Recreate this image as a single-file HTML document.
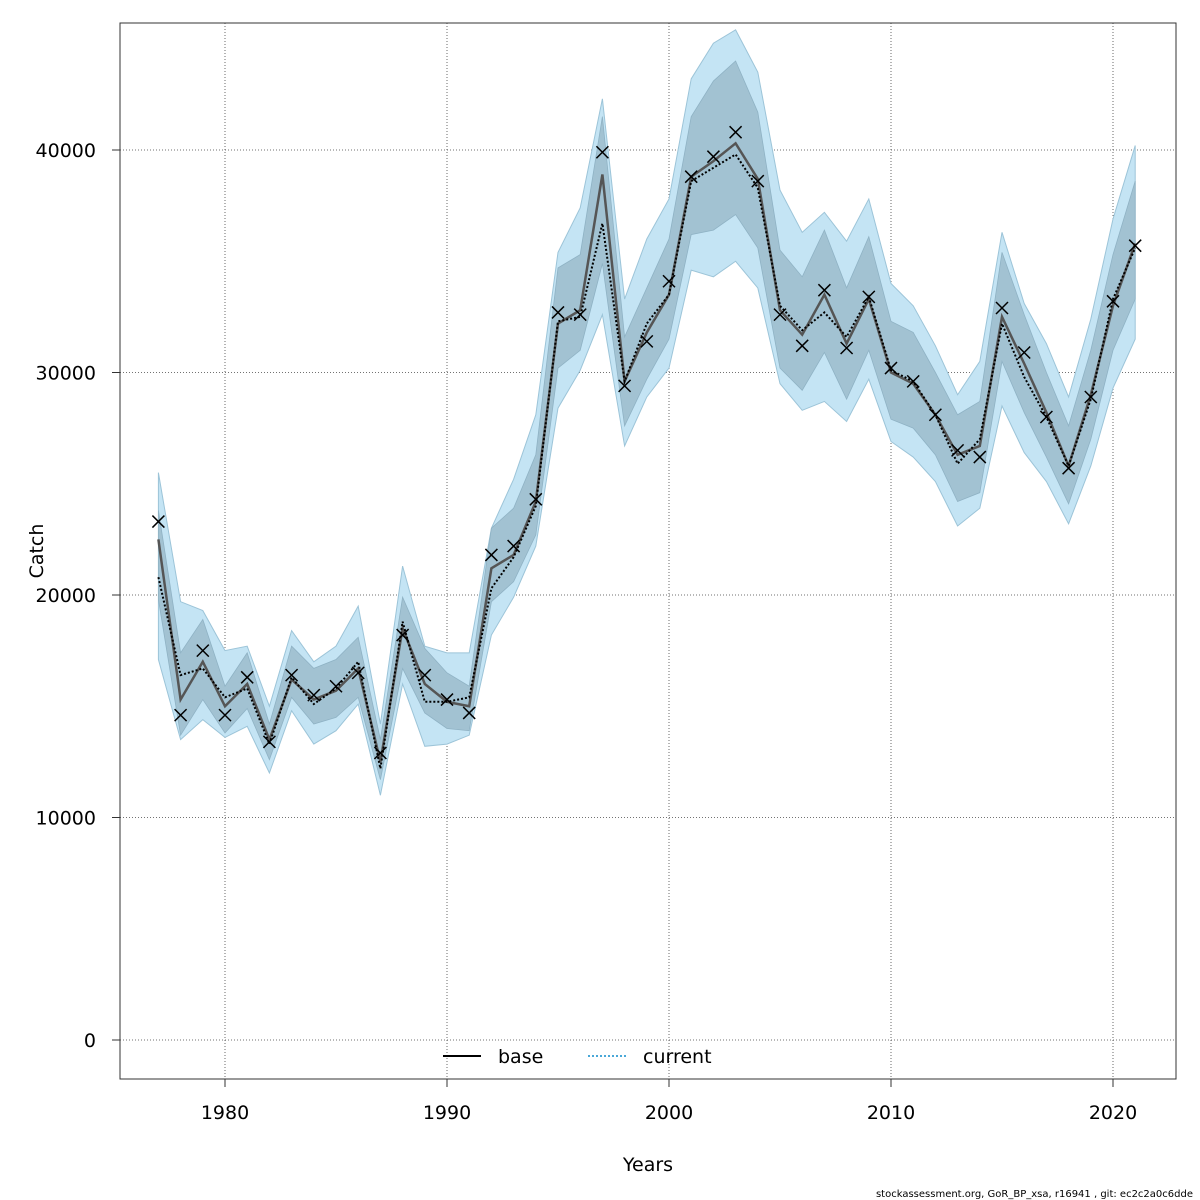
<!DOCTYPE html>
<html><head><meta charset="utf-8"><style>
body{margin:0;background:#fff;}
svg{display:block;font-family:"DejaVu Sans","Liberation Sans",sans-serif;}
</style></head><body>
<svg id="chart" width="1200" height="1200" viewBox="0 0 1200 1200" xmlns="http://www.w3.org/2000/svg">
<rect x="0" y="0" width="1200" height="1200" fill="#fff"/>
<g id="grid"></g>
<g id="bands"></g>
<g id="lines"></g>
<g id="pts"></g>
<rect x="120" y="23" width="1056" height="1056" fill="none" stroke="#333" stroke-width="1"/>
<g id="axes"></g>
<text transform="translate(43,551) rotate(-90)" text-anchor="middle" font-size="19">Catch</text>
<text x="648" y="1171" text-anchor="middle" font-size="19">Years</text>
<g>
<line x1="443" y1="1056" x2="481" y2="1056" stroke="#000" stroke-width="2"/>
<text x="498" y="1063" font-size="19">base</text>
<line x1="588" y1="1056" x2="626" y2="1056" stroke="#4aa8d8" stroke-width="2" stroke-dasharray="2,2"/>
<text x="643" y="1063" font-size="19">current</text>
</g>
<text x="1193" y="1197" text-anchor="end" font-size="10">stockassessment.org, GoR_BP_xsa, r16941 , git: ec2c2a0c6dde</text>
</svg>
<script>
const years=[];for(let y=1977;y<=2021;y++)years.push(y);
const observed=[23300,14600,17500,14600,16300,13400,16400,15500,15900,16500,12900,18200,16400,15300,14700,21800,22200,24300,32700,32600,39900,29400,31400,34100,38800,39700,40800,38600,32600,31200,33700,31100,33400,30200,29600,28100,26500,26200,32900,30900,28000,25700,28900,33200,35700];
const base=[22500,15300,17000,15000,16000,13500,16200,15300,15700,16700,12500,18500,16000,15200,15000,21200,21800,24200,32200,32800,38900,29600,31800,33500,38800,39500,40300,38700,32800,31700,33500,31300,33300,30000,29500,28100,26300,26700,32500,30400,28200,25800,29000,33000,35800];
const current=[20800,16400,16700,15400,15800,13300,16300,15100,15800,17000,12200,18800,15200,15200,15400,20300,21700,24000,32300,32500,36700,29600,32200,33500,38600,39200,39800,38300,33000,31900,32700,31600,33400,30100,29600,28100,25900,27000,32200,29800,28000,25800,28800,33300,35600];
const outerUpper=[25500,19700,19300,17500,17700,15000,18400,17000,17700,19500,14200,21300,17700,17400,17400,23000,25200,28100,35400,37400,42300,33300,36000,37800,43200,44800,45400,43500,38200,36300,37200,35900,37800,34000,33000,31200,29000,30500,36300,33100,31300,28900,32400,36900,40200];
const outerLower=[17100,13500,14400,13600,14100,12000,14800,13300,13900,15100,11000,16000,13200,13300,13700,18200,19900,22200,28400,30100,32600,26700,28900,30200,34600,34300,35000,33800,29500,28300,28700,27800,29700,26900,26200,25100,23100,23900,28500,26400,25100,23200,25800,29300,31500];
const innerUpper=[23800,17400,18900,15900,17400,14200,17700,16700,17100,18100,13500,19900,17600,16500,15900,23000,23900,26300,34700,35300,41500,31600,33800,36000,41500,43100,44000,41700,35500,34300,36400,33800,36100,32300,31800,30000,28100,28700,35400,32600,30000,27600,31000,35300,38600];
const innerLower=[19800,13700,15300,13800,14900,12600,15400,14200,14500,15400,11700,16700,14700,14000,13900,19700,20600,22700,30200,31000,34900,27600,29700,31500,36200,36400,37100,35600,30200,29200,30900,28800,31000,27900,27500,26300,24200,24600,30500,28200,26200,24100,27000,31000,33300];
const xTicks=[1980,1990,2000,2010,2020];
const yTicks=[0,10000,20000,30000,40000];

const NS="http://www.w3.org/2000/svg";
const X=v=>225+(v-1980)*22.2;
const Y=v=>1040-v*0.02225;
function mk(tag,attrs,parent){const e=document.createElementNS(NS,tag);for(const k in attrs)e.setAttribute(k,attrs[k]);parent.appendChild(e);return e;}
const grid=document.getElementById('grid'),axes=document.getElementById('axes');
xTicks.forEach(t=>{
 const g=mk('line',{x1:X(t),y1:23,x2:X(t),y2:1079,stroke:'#444','stroke-width':0.8,'stroke-dasharray':'1,2'},grid);
 
 
 const tk=mk('line',{x1:X(t),y1:1079,x2:X(t),y2:1087,stroke:'#333'},axes);
 
 
 const tx=mk('text',{x:X(t),y:1119,'text-anchor':'middle','font-size':19},axes);tx.textContent=t;
 
 
});
yTicks.forEach(t=>{
 const g=mk('line',{x1:120,y1:Y(t),x2:1176,y2:Y(t),stroke:'#444','stroke-width':0.8,'stroke-dasharray':'1,2'},grid);
 
 
 const tk=mk('line',{x1:112,y1:Y(t),x2:120,y2:Y(t),stroke:'#333'},axes);
 
 
 const tx=mk('text',{x:96,y:Y(t)+7,'text-anchor':'end','font-size':19},axes);tx.textContent=t;
 
 
});
function band(up,lo){let d='';years.forEach((y,i)=>{d+=(i?'L':'M')+X(y)+','+Y(up[i]);});for(let i=years.length-1;i>=0;i--)d+='L'+X(years[i])+','+Y(lo[i]);return d+'Z';}
const bands=document.getElementById('bands');
const ob=mk('path',{d:band(outerUpper,outerLower),fill:'#c4e4f4',stroke:'#9cc4d8','stroke-width':1},bands);


const ib=mk('path',{d:band(innerUpper,innerLower),fill:'#a2c2d2',stroke:'#8fb2c4','stroke-width':0.8},bands);


function line(vals){return years.map((y,i)=>(i?'L':'M')+X(y)+','+Y(vals[i])).join('');}
const lines=document.getElementById('lines');
const bl=mk('path',{d:line(base),fill:'none',stroke:'#555','stroke-width':2.5},lines);


const cl=mk('path',{d:line(current),fill:'none',stroke:'#000','stroke-width':2,'stroke-dasharray':'2,2'},lines);


const pts=document.getElementById('pts');
years.forEach((y,i)=>{
 const cx=X(y),cy=Y(observed[i]),s=6;
 const p=mk('path',{d:`M${cx-s},${cy-s}L${cx+s},${cy+s}M${cx-s},${cy+s}L${cx+s},${cy-s}`,stroke:'#000','stroke-width':1.5,fill:'none'},pts);
 
 
});
</script>
</body></html>
